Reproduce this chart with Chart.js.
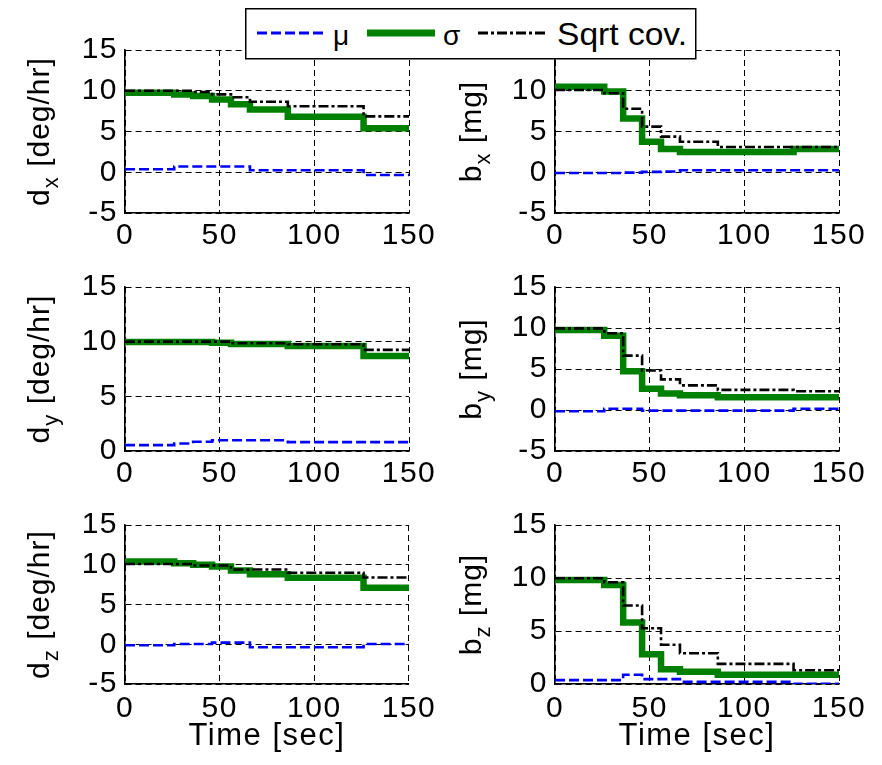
<!DOCTYPE html>
<html>
<head>
<meta charset="utf-8">
<script src="https://cdn.jsdelivr.net/npm/chart.js@4.4.1/dist/chart.umd.min.js"></script>
<style>
html, body { margin:0; padding:0; background:#fff; }
body { width:882px; height:765px; overflow:hidden; position:relative; }
canvas { position:absolute; }
#legend { position:absolute; left:245px; top:8px; z-index:10; }
</style>
</head>
<body>
<canvas id="c_dx" width="441" height="262" style="left:0;top:0"></canvas>
<canvas id="c_bx" width="441" height="262" style="left:441px;top:0"></canvas>
<canvas id="c_dy" width="441" height="238" style="left:0;top:262px"></canvas>
<canvas id="c_by" width="441" height="238" style="left:441px;top:262px"></canvas>
<canvas id="c_dz" width="441" height="265" style="left:0;top:500px"></canvas>
<canvas id="c_bz" width="441" height="265" style="left:441px;top:500px"></canvas>
<svg id="legend" width="452" height="52"></svg>
<script>
// ---------------- data ----------------
const TIME = [0, 26, 36, 46, 56, 66, 86, 126, 150];
const TIME_TICKS = [0, 50, 100, 150];
const SERIES_LABELS = ['μ', 'σ', 'Sqrt cov.'];
const X_TITLE = 'Time [sec]';

const DX_MU    = [0.37, 0.70, 0.70, 0.70, 0.70, 0.25, 0.25, -0.33, -0.33];
const DX_SIGMA = [9.76, 9.55, 9.35, 8.94, 8.33, 7.70, 6.80, 5.40, 5.40];
const DX_SQRT  = [10.0, 10.0, 9.85, 9.55, 9.20, 8.65, 8.10, 6.85, 6.85];

const BX_MU    = [-0.10, -0.10, -0.05, 0.05, 0.10, 0.25, 0.25, 0.25, 0.25];
const BX_SIGMA = [10.50, 9.90, 6.60, 3.75, 2.86, 2.50, 2.50, 2.85, 2.85];
const BX_SQRT  = [10.10, 9.70, 7.80, 5.60, 4.37, 3.75, 3.10, 3.10, 3.10];

const DY_MU    = [0.54, 0.69, 0.84, 0.99, 0.99, 0.99, 0.81, 0.81, 0.81];
const DY_SIGMA = [9.97, 9.97, 9.97, 9.90, 9.79, 9.79, 9.60, 8.70, 8.70];
const DY_SQRT  = [10.0, 10.0, 10.0, 10.0, 9.85, 9.85, 9.76, 9.25, 9.25];

const BY_MU    = [-0.16, 0.16, 0.16, -0.08, -0.08, -0.08, -0.08, 0.16, 0.16];
const BY_SIGMA = [9.76, 9.04, 4.74, 2.60, 2.00, 1.80, 1.57, 1.57, 1.57];
const BY_SQRT  = [9.96, 9.36, 6.63, 4.82, 3.73, 3.00, 2.45, 2.29, 2.29];

const DZ_MU    = [-0.12, 0.04, 0.04, 0.20, 0.20, -0.37, -0.37, 0.04, 0.04];
const DZ_SIGMA = [10.40, 10.20, 10.00, 9.77, 9.28, 8.79, 8.38, 7.10, 7.10];
const DZ_SQRT  = [10.10, 10.10, 9.90, 9.90, 9.40, 9.40, 9.00, 8.40, 8.40];

const BZ_MU    = [0.37, 0.37, 0.87, 0.46, 0.46, 0.20, 0.20, 0.03, 0.03];
const BZ_SIGMA = [9.80, 9.35, 5.80, 2.80, 1.40, 1.15, 0.87, 0.87, 0.87];
const BZ_SQRT  = [9.97, 9.60, 7.40, 5.26, 3.70, 2.90, 1.90, 1.30, 1.30];

// ---------------- styles ----------------
const FONT = '"Liberation Sans", Arial, Helvetica, sans-serif';
const TICK_SIZE = 30;
const LETTER_SPACING = '1.5px';
const COLORS = ['#0000ff', '#008000', '#000000'];
const WIDTHS = [2.6, 6.5, 2.6];
const DASHES = [[10, 4], [], [10, 3, 3, 3]];
const ORDERS = [2, 1, 0];

const spacingPlugin = {
  id: 'spacing',
  beforeDraw(chart) { chart.ctx.letterSpacing = LETTER_SPACING; }
};

const yTitlePlugin = {
  id: 'yTitle',
  afterDraw(chart, args, o) {
    if (!o || !o.main) return;
    const {ctx, chartArea} = chart;
    const cy = (chartArea.top + chartArea.bottom) / 2;
    const big = o.size + 'px ' + FONT;
    const small = Math.round(o.size * 0.72) + 'px ' + FONT;
    ctx.save();
    ctx.letterSpacing = '1px';
    ctx.fillStyle = '#000';
    ctx.textBaseline = 'alphabetic';
    ctx.textAlign = 'left';
    ctx.translate(o.x, cy);
    ctx.rotate(-Math.PI / 2);
    ctx.font = big;
    const w1 = ctx.measureText(o.main).width;
    const w3 = ctx.measureText(o.rest).width;
    ctx.font = small;
    const w2 = ctx.measureText(o.sub).width;
    let x = -(w1 + w2 + w3) / 2;
    ctx.font = big; ctx.fillText(o.main, x, 0); x += w1;
    ctx.font = small; ctx.fillText(o.sub, x, o.size * 0.3); x += w2;
    ctx.font = big; ctx.fillText(o.rest, x, 0);
    ctx.restore();
  }
};

function makeChart(id, series, cfg) {
  const datasets = series.map((arr, i) => ({
    label: SERIES_LABELS[i],
    data: TIME.map((t, k) => ({x: t, y: arr[k]})),
    borderColor: COLORS[i],
    borderWidth: WIDTHS[i],
    borderDash: DASHES[i],
    stepped: 'before',
    pointRadius: 0,
    fill: false,
    tension: 0,
    order: ORDERS[i],
    borderCapStyle: 'butt',
    borderJoinStyle: 'miter'
  }));
  const gridCommon = { color: '#000', lineWidth: 1, drawTicks: false };
  const borderCommon = { display: true, color: '#000', width: 1.6, dash: [6, 4] };
  return new Chart(document.getElementById(id), {
    type: 'line',
    data: { datasets },
    plugins: [spacingPlugin, yTitlePlugin],
    options: {
      responsive: false,
      animation: false,
      events: [],
      layout: { padding: { top: cfg.padTop, right: cfg.padRight, left: 0, bottom: 0 } },
      plugins: {
        legend: { display: false },
        tooltip: { enabled: false },
        yTitle: { main: cfg.yMain, sub: cfg.ySub, rest: cfg.yRest, x: cfg.titleX, size: 30 }
      },
      scales: {
        x: {
          type: 'linear', min: 0, max: 150,
          afterBuildTicks: s => { s.ticks = TIME_TICKS.map(v => ({value: v})); },
          ticks: { color: '#000', font: { family: FONT, size: TICK_SIZE }, padding: cfg.xPad, maxRotation: 0, autoSkip: false },
          grid: gridCommon,
          border: borderCommon,
          title: { display: !!cfg.xTitle, text: X_TITLE, color: '#000', font: { family: FONT, size: 31 }, padding: { top: 0, bottom: 10 } },
          afterFit: s => { s.height = cfg.xH; }
        },
        y: {
          type: 'linear', min: cfg.yMin, max: 15,
          ticks: { stepSize: 5, color: '#000', font: { family: FONT, size: TICK_SIZE }, padding: 7 },
          grid: gridCommon,
          border: borderCommon,
          afterFit: s => { s.width = cfg.yW; }
        }
      }
    }
  });
}

const LEFT = { yW: 125, padRight: 32, titleX: 49 };
const RIGHT = { yW: 114, padRight: 43, titleX: 40 };
const R1 = { padTop: 50, xH: 49, xPad: 5 };
const R2 = { padTop: 23, xH: 49, xPad: 5 };
const R3 = { padTop: 22, xH: 81, xPad: 7, xTitle: true };

makeChart('c_dx', [DX_MU, DX_SIGMA, DX_SQRT], Object.assign({}, LEFT, R1, { yMin: -5, yMain: 'd', ySub: 'x', yRest: ' [deg/hr]' }));
makeChart('c_bx', [BX_MU, BX_SIGMA, BX_SQRT], Object.assign({}, RIGHT, R1, { yMin: -5, yMain: 'b', ySub: 'x', yRest: ' [mg]' }));
makeChart('c_dy', [DY_MU, DY_SIGMA, DY_SQRT], Object.assign({}, LEFT, R2, { yMin: 0, yMain: 'd', ySub: 'y', yRest: ' [deg/hr]' }));
makeChart('c_by', [BY_MU, BY_SIGMA, BY_SQRT], Object.assign({}, RIGHT, R2, { yMin: -5, yMain: 'b', ySub: 'y', yRest: ' [mg]' }));
makeChart('c_dz', [DZ_MU, DZ_SIGMA, DZ_SQRT], Object.assign({}, LEFT, R3, { yMin: -5, yMain: 'd', ySub: 'z', yRest: ' [deg/hr]' }));
makeChart('c_bz', [BZ_MU, BZ_SIGMA, BZ_SQRT], Object.assign({}, RIGHT, R3, { yMin: 0, yMain: 'b', ySub: 'z', yRest: ' [mg]' }));

// ---------------- legend (built from series labels/styles) ----------------
(function buildLegend() {
  const svg = document.getElementById('legend');
  const NS = 'http://www.w3.org/2000/svg';
  const el = (tag, attrs, text) => {
    const e = document.createElementNS(NS, tag);
    for (const k in attrs) e.setAttribute(k, attrs[k]);
    if (text) e.textContent = text;
    svg.appendChild(e);
    return e;
  };
  el('rect', { x: 0.75, y: 0.75, width: 450, height: 50, fill: '#fff', stroke: '#000', 'stroke-width': 1.5 });
  const lineX = [12, 122, 233];
  const textX = [88, 198, 312];
  const textSize = [28, 28, 31];
  const textLen = [null, null, 130];
  SERIES_LABELS.forEach((lab, i) => {
    el('line', { x1: lineX[i], y1: 25, x2: lineX[i] + 68, y2: 25, stroke: COLORS[i],
      'stroke-width': i === 1 ? 7 : 3, 'stroke-dasharray': DASHES[i].length ? DASHES[i].join(',') : 'none' });
    const attrs = { x: textX[i], y: 37, 'font-family': 'Liberation Sans, Arial, sans-serif', 'font-size': textSize[i], fill: '#000' };
    if (textLen[i]) { attrs.textLength = textLen[i]; attrs.lengthAdjust = 'spacingAndGlyphs'; }
    el('text', attrs, lab);
  });
})();
</script>
</body>
</html>
